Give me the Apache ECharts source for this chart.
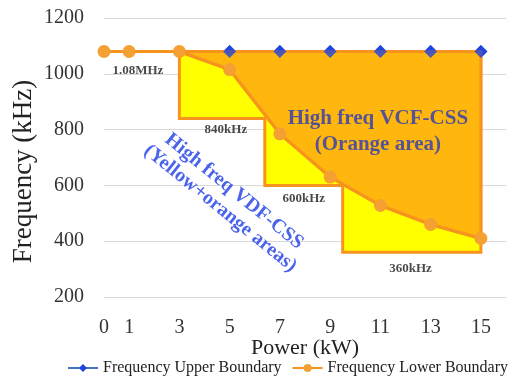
<!DOCTYPE html>
<html><head><meta charset="utf-8">
<script src="https://cdn.jsdelivr.net/npm/echarts@6/dist/echarts.min.js"></script>
<style>html,body{margin:0;padding:0;background:#fff}#c{width:515px;height:378px}</style>
</head><body><div id="c"></div>
<script>
const powerTicks = [0, 1, 3, 5, 7, 9, 11, 13, 15];
const upperX = [5, 7, 9, 11, 13, 15];
const upperY = [1080, 1080, 1080, 1080, 1080, 1080];
const lowerX = [0, 1, 3, 5, 7, 9, 11, 13, 15];
const lowerY = [1080, 1080, 1080, 1015, 785, 630, 528, 460, 410];
const stepX = [3, 6.4, 9.5, 15];
const stepLevel = [840, 600, 360];
const topLevel = 1080;
const labelTexts = ['1.08MHz', '840kHz', '600kHz', '360kHz'];
const labelX = [1.35, 4.85, 7.95, 12.2];
const labelY = [1010, 800, 552, 300];
const vcfText = 'High freq VCF-CSS\n(Orange area)';
const vcfPos = [10.9, 793];
const vdfText = 'High freq VDF-CSS\n(Yellow+orange areas)';
const vdfPos = [4.9, 548];

const SERIF = '"Liberation Serif", "DejaVu Serif", serif';
const ORANGE = '#F7941D';

const yellowPts = [[stepX[0], topLevel]];
for (let i = 0; i < stepLevel.length; i++) {
  yellowPts.push([stepX[i], stepLevel[i]]);
  yellowPts.push([stepX[i + 1], stepLevel[i]]);
}
yellowPts.push([stepX[stepX.length - 1], topLevel]);
const orangePts = [];
lowerX.forEach((x, i) => { if (x >= 3) orangePts.push([x, lowerY[i]]); });
orangePts.push([lowerX[lowerX.length - 1], topLevel]);

function polySeries(pts, fill, z) {
  return {
    type: 'custom', z: z, silent: true,
    data: [pts[0]],
    renderItem: function (params, api) {
      return {
        type: 'polygon',
        shape: { points: pts.map(p => api.coord(p)) },
        style: { fill: fill, stroke: ORANGE, lineWidth: 3, lineJoin: 'miter' }
      };
    }
  };
}

const chart = echarts.init(document.getElementById('c'));
chart.setOption({
  animation: false,
  textStyle: { fontFamily: SERIF },
  grid: { left: 104, right: 9, top: 18, bottom: 81, containLabel: false, outerBoundsMode: 'none' },
  legend: {
    bottom: -3, left: 62, width: 470, itemGap: 10, itemWidth: 30, itemHeight: 10,
    textStyle: { fontFamily: SERIF, fontSize: 16, color: '#222' },
    data: ['Frequency Upper Boundary', 'Frequency Lower Boundary']
  },
  xAxis: {
    type: 'value', min: 0, max: 16, interval: 1,
    name: 'Power (kW)', nameLocation: 'middle', nameGap: 40, nameMoveOverlap: false,
    nameTextStyle: { fontFamily: SERIF, fontSize: 22, color: '#222' },
    axisLine: { show: false }, axisTick: { show: false }, splitLine: { show: false },
    axisLabel: {
      fontFamily: SERIF, fontSize: 20, color: '#333', margin: 21,
      formatter: v => powerTicks.indexOf(v) >= 0 ? String(v) : ''
    }
  },
  yAxis: {
    type: 'value', min: 200, max: 1200, interval: 200,
    name: 'Frequency (kHz)', nameLocation: 'middle', nameGap: 67, nameMoveOverlap: false,
    nameTextStyle: { fontFamily: SERIF, fontSize: 27, color: '#222', padding: [0, 28, 0, 0] },
    axisLine: { show: false }, axisTick: { show: false },
    splitLine: { lineStyle: { color: '#D9D9D9', width: 1 } },
    axisLabel: { fontFamily: SERIF, fontSize: 20, color: '#333', margin: 20, formatter: v => String(v) }
  },
  series: [
    {
      name: 'Frequency Upper Boundary', type: 'line', z: 1,
      data: upperX.map((x, i) => [x, upperY[i]]),
      symbol: 'diamond', symbolSize: 13,
      lineStyle: { color: '#4472C4', width: 2 },
      itemStyle: { color: '#1F45E0' }
    },
    polySeries(yellowPts, '#FFFF00', 2),
    polySeries(orangePts, '#FFB60D', 3),
    {
      name: 'Frequency Lower Boundary', type: 'line', z: 4,
      data: lowerX.map((x, i) => [x, lowerY[i]]),
      symbol: 'circle', symbolSize: 13,
      lineStyle: { color: ORANGE, width: 3 },
      itemStyle: { color: '#F5A033' }
    },
    {
      type: 'scatter', z: 5, silent: true,
      data: upperX.map((x, i) => [x, upperY[i]]),
      symbol: 'diamond', symbolSize: 13,
      itemStyle: { color: '#1F45E0' }
    },
    {
      type: 'scatter', z: 6, silent: true, symbolSize: 0,
      data: labelX.map((x, i) => ({ value: [x, labelY[i]], name: labelTexts[i] })),
      label: {
        show: true, position: 'inside', formatter: p => p.name,
        fontFamily: SERIF, fontSize: 13, fontWeight: 'bold', color: '#1a1a1a'
      }
    },
    {
      type: 'scatter', z: 6, silent: true, symbolSize: 0,
      data: [{ value: vcfPos, name: vcfText }],
      label: {
        show: true, position: 'inside', formatter: p => p.name, align: 'center',
        fontFamily: SERIF, fontSize: 21, fontWeight: 'bold', color: '#2A3BB8', lineHeight: 26
      }
    },
    {
      type: 'scatter', z: 6, silent: true, symbolSize: 0,
      data: [{ value: vdfPos, name: vdfText }],
      label: {
        show: true, position: 'inside', formatter: p => p.name, align: 'center', rotate: -39,
        fontFamily: SERIF, fontSize: 20, fontWeight: 'bold', color: '#1E3DE6', lineHeight: 22
      }
    }
  ]
});
</script></body></html>
